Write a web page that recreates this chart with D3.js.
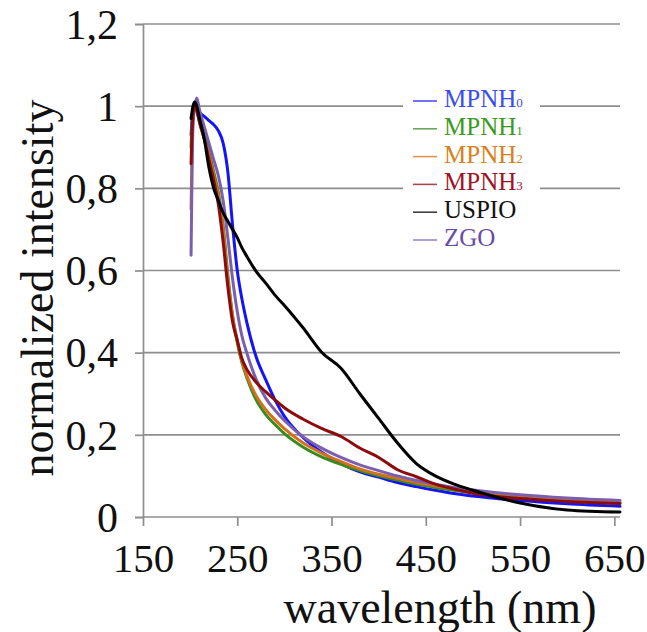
<!DOCTYPE html>
<html>
<head>
<meta charset="utf-8">
<script src="https://cdn.jsdelivr.net/npm/d3@7"></script>
<style>
  html, body { margin: 0; padding: 0; background: #fff; }
  svg { display: block; }
</style>
</head>
<body>
<svg id="chart" width="647" height="632"></svg>
<script>
// ---- data ----
const wavelengths = [201, 203, 205, 207, 210, 215, 220, 225, 230, 235, 240, 245, 250, 255, 260, 270, 280, 290, 300, 320, 340, 360, 380, 400, 420, 440, 460, 480, 500, 550, 600, 656];

const seriesNames = ["MPNH0", "MPNH1", "MPNH2", "MPNH3", "USPIO", "ZGO"];

const mpnh0 = [0.93, 0.99, 1.00, 1.00, 0.985, 0.975, 0.965, 0.955, 0.94, 0.91, 0.84, 0.71, 0.60, 0.53, 0.475, 0.39, 0.335, 0.285, 0.245, 0.193, 0.157, 0.130, 0.110, 0.097, 0.084, 0.074, 0.065, 0.057, 0.051, 0.040, 0.032, 0.026];
const mpnh1 = [0.90, 0.99, 1.00, 0.99, 0.965, 0.93, 0.89, 0.84, 0.79, 0.71, 0.59, 0.49, 0.425, 0.375, 0.34, 0.285, 0.25, 0.225, 0.203, 0.170, 0.146, 0.128, 0.113, 0.100, 0.090, 0.080, 0.072, 0.065, 0.059, 0.048, 0.039, 0.033];
const mpnh2 = [0.75, 0.97, 1.00, 0.99, 0.96, 0.92, 0.88, 0.83, 0.78, 0.70, 0.58, 0.49, 0.43, 0.38, 0.345, 0.295, 0.262, 0.237, 0.215, 0.180, 0.155, 0.135, 0.117, 0.104, 0.094, 0.084, 0.076, 0.069, 0.063, 0.052, 0.043, 0.036];
const mpnh3 = [0.86, 0.98, 1.00, 0.99, 0.96, 0.92, 0.87, 0.82, 0.76, 0.67, 0.56, 0.475, 0.43, 0.385, 0.36, 0.328, 0.305, 0.285, 0.266, 0.238, 0.215, 0.196, 0.168, 0.145, 0.115, 0.098, 0.080, 0.068, 0.058, 0.045, 0.038, 0.033];
const uspio = [0.97, 1.00, 1.01, 1.00, 0.97, 0.92, 0.85, 0.80, 0.77, 0.74, 0.72, 0.70, 0.68, 0.655, 0.635, 0.598, 0.57, 0.54, 0.515, 0.46, 0.40, 0.362, 0.30, 0.24, 0.18, 0.13, 0.10, 0.08, 0.065, 0.034, 0.017, 0.012];
const zgo   = [0.637, 0.95, 1.00, 1.02, 0.99, 0.95, 0.91, 0.87, 0.83, 0.77, 0.68, 0.58, 0.50, 0.44, 0.40, 0.335, 0.29, 0.26, 0.235, 0.195, 0.167, 0.145, 0.127, 0.113, 0.100, 0.089, 0.080, 0.072, 0.066, 0.054, 0.046, 0.040];

const xTicks = [150, 250, 350, 450, 550, 650];
const yTicks = [0, 0.2, 0.4, 0.6, 0.8, 1.0, 1.2];

const lineColors = ["#1414f5", "#3a8a1e", "#d2701e", "#8b0c0c", "#000000", "#7a5fb0"];
const textColors = ["#3a4df0", "#3b9a22", "#d98020", "#a01322", "#111111", "#6a4aa8"];
const labelMain = ["MPNH", "MPNH", "MPNH", "MPNH", "USPIO", "ZGO"];
const labelSub  = ["0", "1", "2", "3", "", ""];

// ---- drawing ----
const FONT = "'Liberation Serif', Tinos, 'Times New Roman', 'DejaVu Serif', serif";
const svg = d3.select("#chart");
const x = d3.scaleLinear().domain([150, 656]).range([143, 620]);
const y = d3.scaleLinear().domain([0, 1.2]).range([517, 24]);
const gridColor = "#8e8e8e";

// grid lines
svg.append("g").selectAll("line").data(yTicks.filter(d => d > 0)).join("line")
  .attr("x1", x(150)).attr("x2", x(656))
  .attr("y1", d => y(d)).attr("y2", d => y(d))
  .attr("stroke", gridColor).attr("stroke-width", 1.7);

// y axis
const yAxis = svg.append("g").attr("transform", `translate(${x(150)},0)`)
  .call(d3.axisLeft(y).tickValues(yTicks).tickSize(8).tickPadding(17)
    .tickFormat(d => String(d3.format("~g")(d)).replace(".", ",")));
yAxis.attr("font-family", null);
yAxis.select(".domain").attr("stroke", gridColor).attr("stroke-width", 1.7);
yAxis.selectAll(".tick line").attr("stroke", gridColor).attr("stroke-width", 1.7);
yAxis.selectAll(".tick text").style("font-family", FONT)
  .style("font-size", "42px").attr("fill", "#111").attr("dy", "0.34em");

// x axis
const xAxis = svg.append("g").attr("transform", `translate(0,${y(0)})`)
  .call(d3.axisBottom(x).tickValues(xTicks).tickSize(9).tickPadding(17).tickFormat(d3.format("d")));
xAxis.attr("font-family", null);
xAxis.select(".domain").attr("d", `M${x(150)},0H${x(656)}`).attr("stroke", gridColor).attr("stroke-width", 1.7);
xAxis.selectAll(".tick line").attr("stroke", gridColor).attr("stroke-width", 1.7);
xAxis.selectAll(".tick text").style("font-family", FONT)
  .style("font-size", "41px").attr("fill", "#111").attr("dy", "0.71em");

// axis titles
svg.append("text").attr("x", 440).attr("y", 623).attr("text-anchor", "middle")
  .style("font-family", FONT).style("font-size", "46px").attr("fill", "#111").text("wavelength (nm)");
svg.append("text").attr("transform", "translate(53,288) rotate(-90)").attr("text-anchor", "middle")
  .style("font-family", FONT).style("font-size", "46px").attr("fill", "#111").text("normalized intensity");

// series
const allSeries = [mpnh0, mpnh1, mpnh2, mpnh3, uspio, zgo];
const line = d3.line().x(d => x(d[0])).y(d => y(d[1])).curve(d3.curveMonotoneX);
const plot = svg.append("g");
const drawOrder = [0, 1, 2, 5, 3, 4];
drawOrder.forEach(i => {
  plot.append("path")
    .attr("d", line(wavelengths.map((w, k) => [w, allSeries[i][k]])))
    .attr("fill", "none").attr("stroke", lineColors[i])
    .attr("stroke-width", 3).attr("stroke-linejoin", "round").attr("stroke-linecap", "round");
});

// legend
const legend = svg.append("g");
legend.append("rect").attr("x", 403).attr("y", 84).attr("width", 137).attr("height", 168).attr("fill", "#fff");
seriesNames.forEach((name, i) => {
  const by = 107 + i * 27.8;
  legend.append("line").attr("x1", 413).attr("x2", 437).attr("y1", by - 6).attr("y2", by - 6)
    .attr("stroke", lineColors[i]).attr("stroke-width", 1.6).attr("opacity", 0.75);
  const t = legend.append("text").attr("x", 444).attr("y", by)
    .style("font-family", FONT).style("font-size", "25px").attr("fill", textColors[i]);
  t.append("tspan").text(labelMain[i]);
  if (labelSub[i]) t.append("tspan").style("font-size", "13px").text(labelSub[i]);
});
</script>
</body>
</html>
